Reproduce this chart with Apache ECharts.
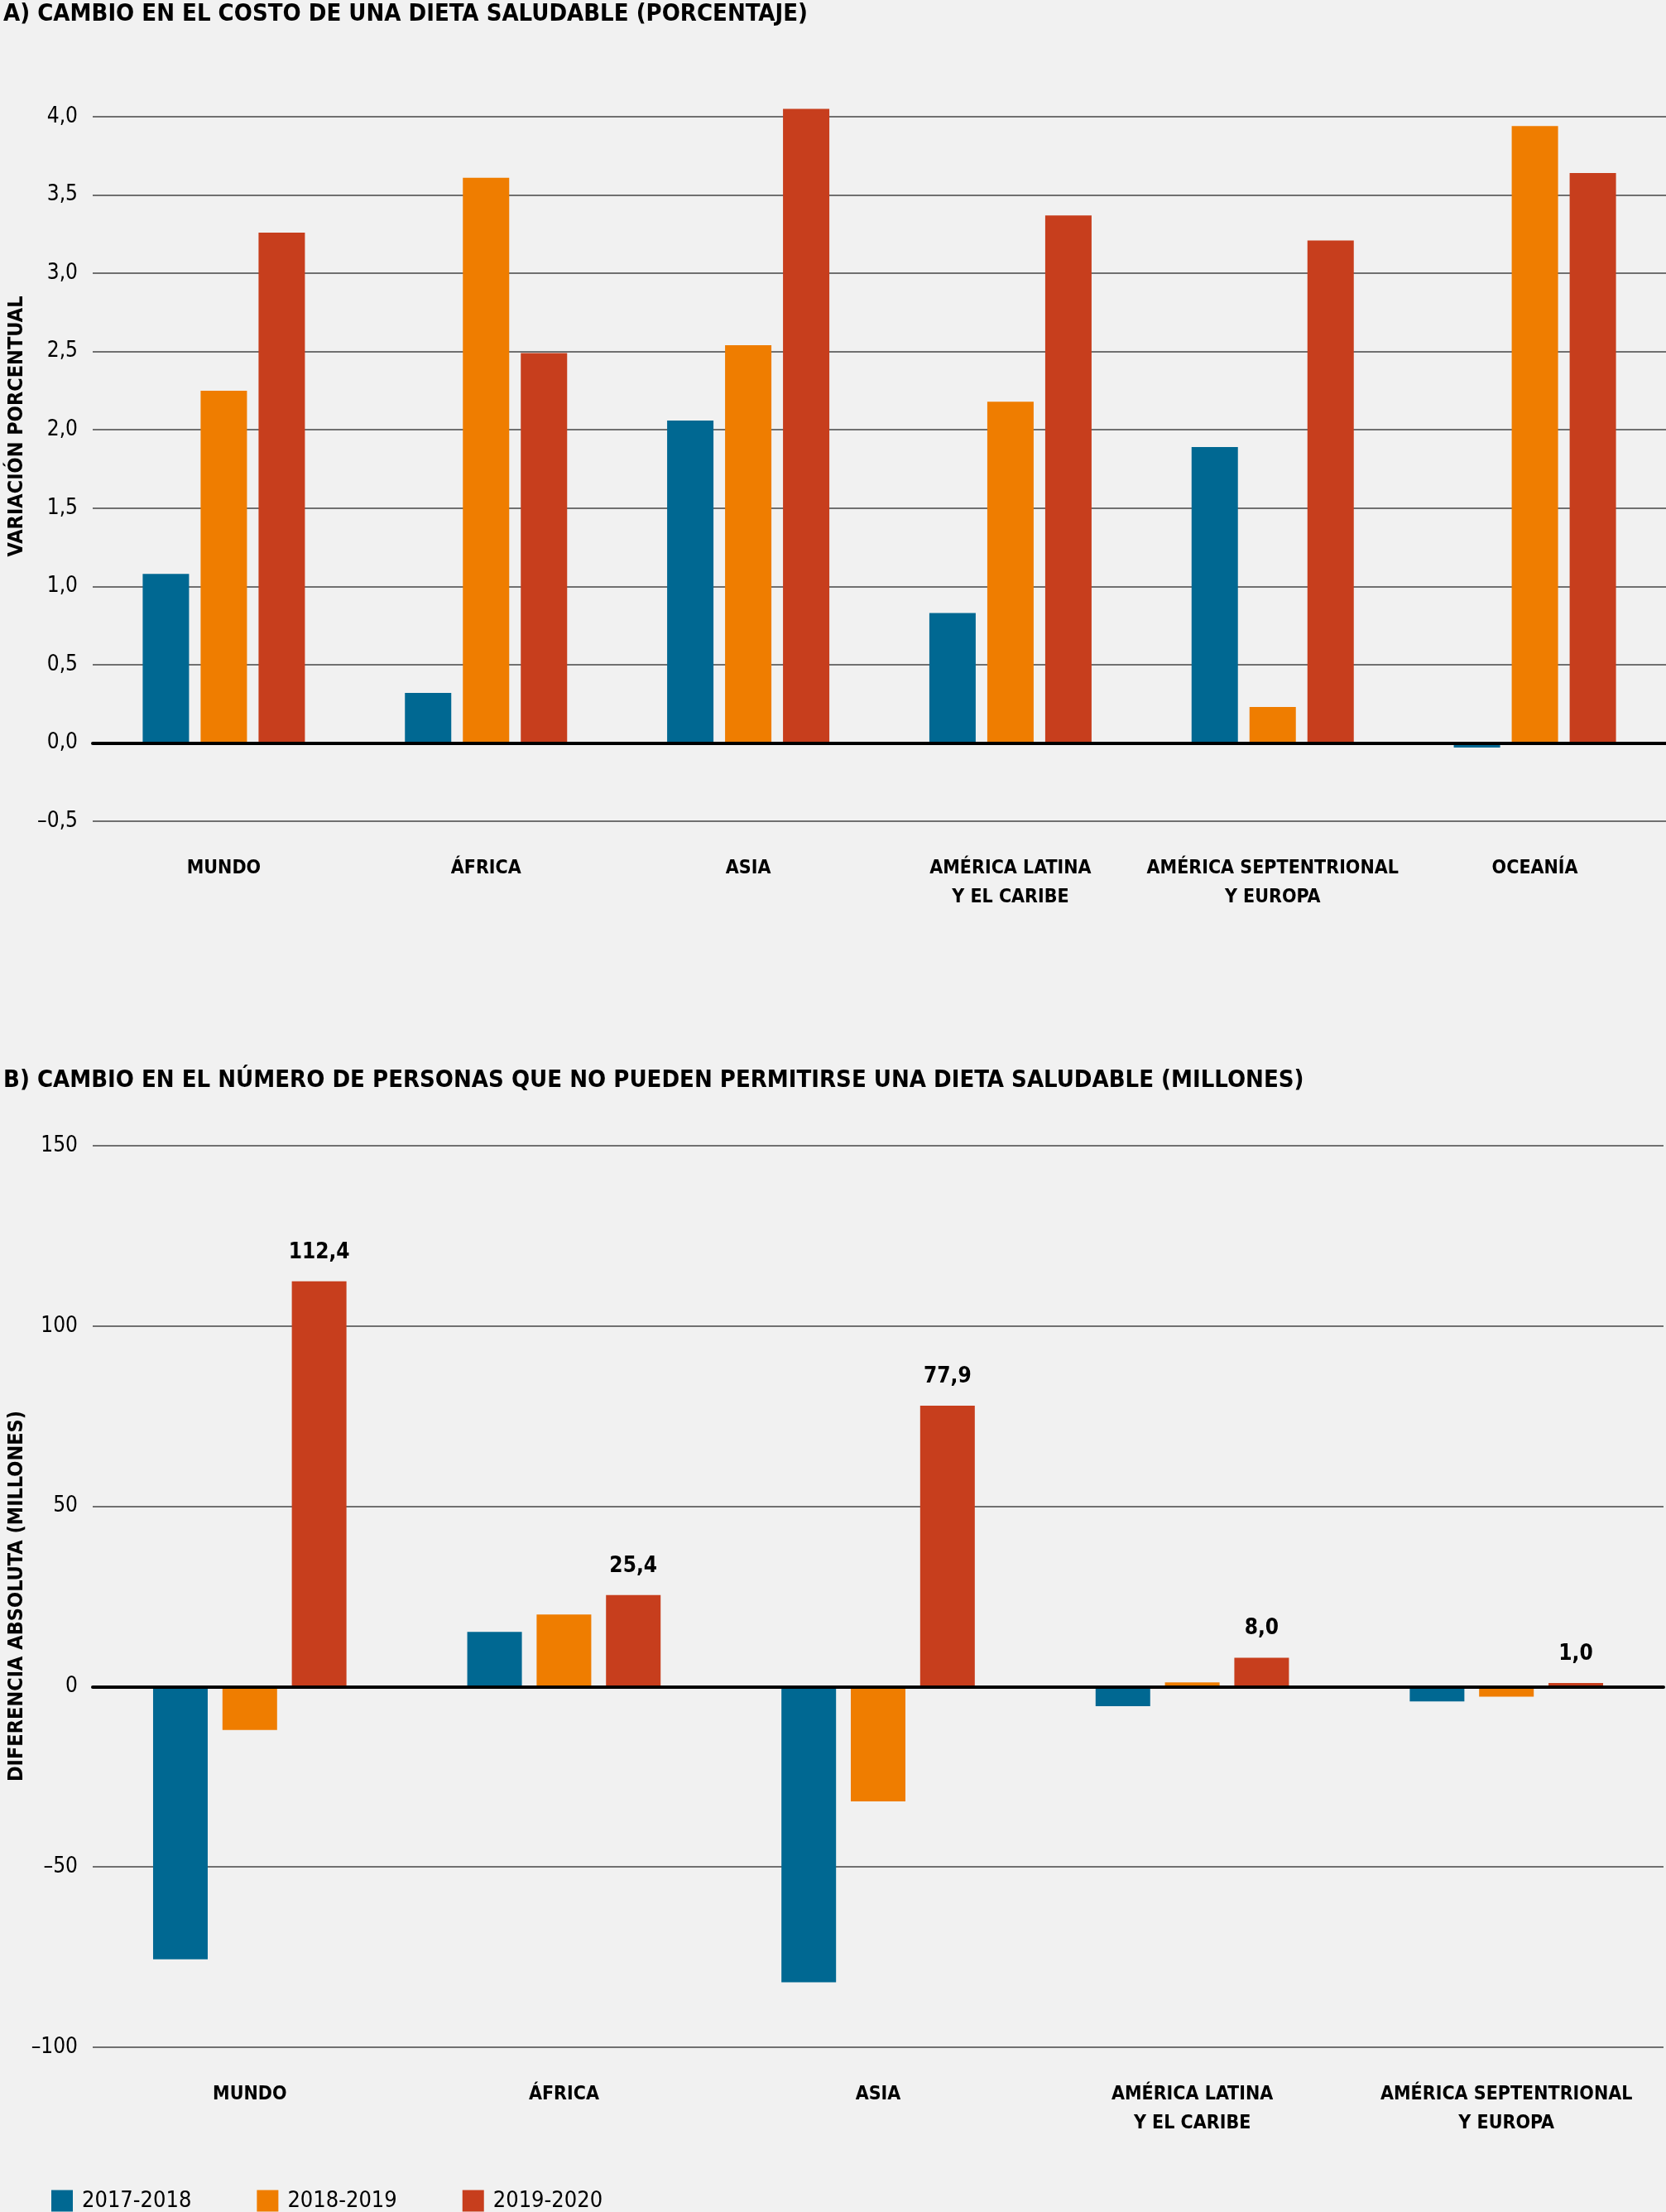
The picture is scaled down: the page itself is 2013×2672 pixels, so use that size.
<!DOCTYPE html>
<html>
<head>
<meta charset="utf-8">
<script src="https://cdn.jsdelivr.net/npm/echarts@6/dist/echarts.min.js"></script>
<style>
  html, body { margin: 0; padding: 0; background: #f1f1f1; }
  #chart { width: 2013px; height: 2672px; }
</style>
</head>
<body>
<div id="chart"></div>
<script>
const FONT = '"Liberation Sans Narrow", "DejaVu Sans Condensed", "Roboto Condensed", sans-serif';

const seriesNames = ['2017-2018', '2018-2019', '2019-2020'];
const colors = ['#006892', '#ef7d00', '#c73e1d'];

const titleA = 'A) CAMBIO EN EL COSTO DE UNA DIETA SALUDABLE (PORCENTAJE)';
const titleB = 'B) CAMBIO EN EL NÚMERO DE PERSONAS QUE NO PUEDEN PERMITIRSE UNA DIETA SALUDABLE (MILLONES)';
const axisNameA = 'VARIACIÓN PORCENTUAL';
const axisNameB = 'DIFERENCIA ABSOLUTA (MILLONES)';

const categoriesA = ['MUNDO', 'ÁFRICA', 'ASIA', 'AMÉRICA LATINA\nY EL CARIBE', 'AMÉRICA SEPTENTRIONAL\nY EUROPA', 'OCEANÍA'];
const a1718 = [1.08, 0.32, 2.06, 0.83, 1.89, -0.03];
const a1819 = [2.25, 3.61, 2.54, 2.18, 0.23, 3.94];
const a1920 = [3.26, 2.49, 4.05, 3.37, 3.21, 3.64];

const categoriesB = ['MUNDO', 'ÁFRICA', 'ASIA', 'AMÉRICA LATINA\nY EL CARIBE', 'AMÉRICA SEPTENTRIONAL\nY EUROPA'];
const b1718 = [-75.6, 15.2, -82.0, -5.4, -4.1];
const b1819 = [-12.0, 20.0, -31.8, 1.2, -2.8];
const b1920 = [112.4, 25.4, 77.9, 8.0, 1.0];

const axisA = { min: -0.5, max: 4.0, interval: 0.5 };
const axisB = { min: -100, max: 150, interval: 50 };

function fmtA(v) {
  const s = Math.abs(v).toFixed(1).replace('.', ',');
  return v < 0 ? '–' + s : s;
}
function fmtB(v) {
  const s = String(Math.abs(v));
  return v < 0 ? '–' + s : s;
}
function fmtLabel(v) { return v.toFixed(1).replace('.', ','); }

const chart = echarts.init(document.getElementById('chart'), null, { renderer: 'canvas' });

const catLabel = {
  fontFamily: FONT, fontWeight: 'bold', fontSize: 23, color: '#000',
  lineHeight: 35, interval: 0
};
const tickLabel = { fontFamily: FONT, fontSize: 26, color: '#000', margin: 18 };
const splitLine = { show: true, lineStyle: { color: '#444', width: 1.5 } };

function xAxes(gridIndex, cats, margin) {
  return [
    {
      type: 'category', gridIndex: gridIndex, data: cats, position: 'bottom',
      axisLine: { show: false, onZero: false }, axisTick: { show: false },
      axisLabel: Object.assign({ margin: margin }, catLabel)
    },
    {
      type: 'category', gridIndex: gridIndex, data: cats, position: 'bottom', z: 10,
      axisLine: { show: true, onZero: true, lineStyle: { color: '#000', width: 4 } },
      axisTick: { show: false }, axisLabel: { show: false }
    }
  ];
}

function bars(data, idx, xAxisIndex, yAxisIndex, barWidth, barGap, withLabel) {
  return {
    type: 'bar', name: seriesNames[idx], data: data,
    xAxisIndex: xAxisIndex, yAxisIndex: yAxisIndex,
    barWidth: barWidth, barGap: barGap, clip: false,
    itemStyle: { color: colors[idx] },
    label: withLabel ? {
      show: true, position: 'top', distance: 22,
      formatter: p => fmtLabel(p.value),
      fontFamily: FONT, fontWeight: 'bold', fontSize: 26, color: '#000'
    } : { show: false }
  };
}

const nameStyle = { fontFamily: FONT, fontWeight: 'bold', fontSize: 25, fill: '#000', align: 'center', verticalAlign: 'middle' };

const option = {
  backgroundColor: '#f1f1f1',
  animation: false,
  title: [
    { text: titleA, left: 0, top: 3, padding: [0, 0, 0, 4], textStyle: { fontFamily: FONT, fontWeight: 'bold', fontSize: 29, lineHeight: 29, color: '#000' } },
    { text: titleB, left: 0, top: 1291, padding: [0, 0, 0, 4], textStyle: { fontFamily: FONT, fontWeight: 'bold', fontSize: 29, lineHeight: 29, color: '#000' } }
  ],
  graphic: [
    { type: 'text', x: 20, y: 515, rotation: Math.PI / 2, style: Object.assign({ text: axisNameA }, nameStyle) },
    { type: 'text', x: 20, y: 1928, rotation: Math.PI / 2, style: Object.assign({ text: axisNameB }, nameStyle) }
  ],
  legend: {
    left: 62, top: 2645, padding: 0, itemWidth: 26, itemHeight: 26, itemGap: 79, icon: 'rect',
    data: seriesNames,
    textStyle: { fontFamily: FONT, fontSize: 27, color: '#000', padding: [0, 0, 0, 6] }
  },
  grid: [
    { left: 112, right: 0, top: 141, height: 851, outerBoundsMode: 'none', containLabel: false },
    { left: 112, right: 3, top: 1384, height: 1089, outerBoundsMode: 'none', containLabel: false }
  ],
  xAxis: xAxes(0, categoriesA, 40).concat(xAxes(1, categoriesB, 40)),
  yAxis: [
    {
      type: 'value', gridIndex: 0, min: axisA.min, max: axisA.max, interval: axisA.interval,
      axisLine: { show: false }, axisTick: { show: false },
      axisLabel: Object.assign({ formatter: fmtA }, tickLabel),
      splitLine: splitLine
    },
    {
      type: 'value', gridIndex: 1, min: axisB.min, max: axisB.max, interval: axisB.interval,
      axisLine: { show: false }, axisTick: { show: false },
      axisLabel: Object.assign({ formatter: fmtB }, tickLabel),
      splitLine: splitLine
    }
  ],
  series: [
    bars(a1718, 0, 0, 0, 56, '25%', false),
    bars(a1819, 1, 0, 0, 56, '25%', false),
    bars(a1920, 2, 0, 0, 56, '25%', false),
    bars(b1718, 0, 2, 1, 66, '27%', false),
    bars(b1819, 1, 2, 1, 66, '27%', false),
    bars(b1920, 2, 2, 1, 66, '27%', true)
  ]
};

chart.setOption(option);
</script>
</body>
</html>
